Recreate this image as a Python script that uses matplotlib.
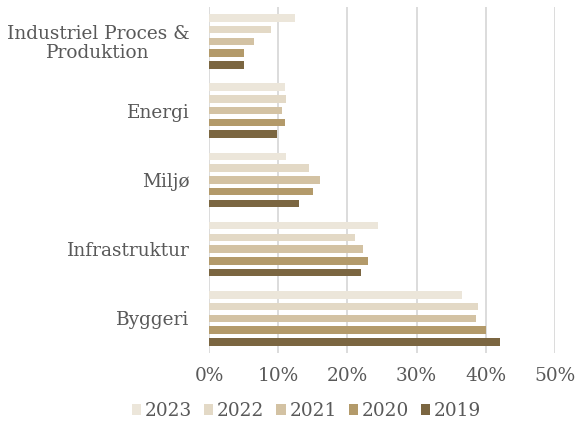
import numpy as np
import matplotlib
matplotlib.use('Agg')
from matplotlib import pyplot as plt
from matplotlib.ticker import FuncFormatter

# categories, top to bottom
categories = ['Industriel Proces &\nProduktion', 'Energi', 'Miljø', 'Infrastruktur', 'Byggeri']
years = ['2023', '2022', '2021', '2020', '2019']

# shares in percent per year
v2023 = [12.5, 11.0, 11.2, 24.4, 36.6]
v2022 = [8.9, 11.1, 14.5, 21.1, 38.9]
v2021 = [6.5, 10.5, 16.0, 22.2, 38.6]
v2020 = [5.0, 11.0, 15.0, 23.0, 40.0]
v2019 = [5.0, 9.9, 13.0, 22.0, 42.0]
series = [v2023, v2022, v2021, v2020, v2019]

colors = ['#ECE6DA', '#E3D9C6', '#D3C2A3', '#B39A6A', '#7B6641']

plt.rcParams['font.family'] = ['DejaVu Serif']
text_color = '#595959'

fig = plt.figure(figsize=(5.76, 4.22), dpi=100)
ax = fig.add_axes([0.3628, 0.1635, 0.6007, 0.8205])

y = np.arange(len(categories))
step = 0.169
height = 0.108
for i, (vals, col, yr) in enumerate(zip(series, colors, years)):
    offs = (i - 2) * step
    ax.barh(y + offs, vals, height=height, color=col, label=yr, zorder=3)

ax.set_ylim(len(categories) - 0.5, -0.5)
ax.set_xlim(0, 50)
ax.set_xticks([0, 10, 20, 30, 40, 50])
ax.xaxis.set_major_formatter(FuncFormatter(lambda v, p: f'{v:.0f}%'))
ax.set_yticks(y)
ax.set_yticklabels(categories, ha='right', multialignment='center', linespacing=1.05)
ax.tick_params(axis='y', length=0, pad=14, labelsize=13.3, labelcolor=text_color)
ax.tick_params(axis='x', length=0, pad=10, labelsize=13.3, labelcolor=text_color)
ax.grid(axis='x', color='#D9D9D9', linewidth=1.3, zorder=0)
for s in ax.spines.values():
    s.set_visible(False)

leg = fig.legend(loc='lower center', bbox_to_anchor=(0.532, -0.035), ncol=5, frameon=False,
                 fontsize=13.3, handlelength=0.5, handleheight=0.5, handletextpad=0.2,
                 columnspacing=0.65)
for t in leg.get_texts():
    t.set_color(text_color)

fig.savefig('out.png', dpi=100)
